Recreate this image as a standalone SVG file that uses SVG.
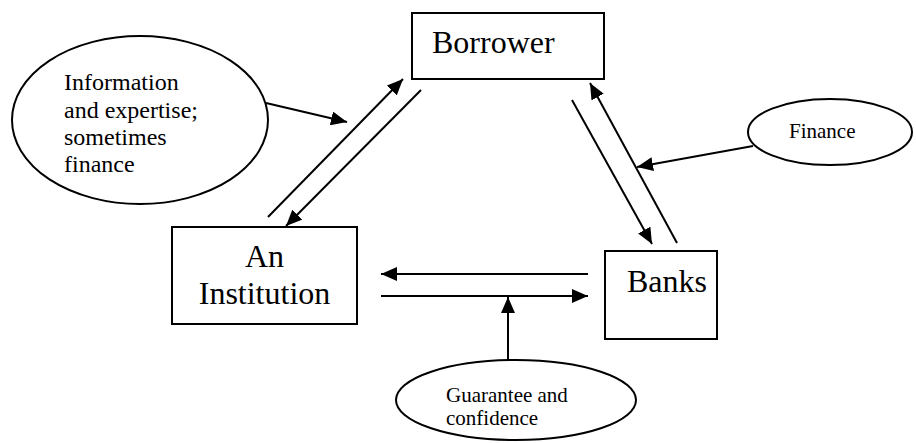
<svg xmlns="http://www.w3.org/2000/svg" width="916" height="443" viewBox="0 0 916 443">
<style>
.box{fill:#fff;stroke:#000;stroke-width:2}
.ell{fill:#fff;stroke:#000;stroke-width:2}
.c line{stroke:#000;stroke-width:2;fill:none}
</style>
<defs>
<marker id="ah" markerUnits="userSpaceOnUse" markerWidth="17" markerHeight="14" refX="16" refY="7" orient="auto">
<path d="M0,0 L16,7 L0,14 z" fill="#000"/>
</marker>
</defs>
<rect width="916" height="443" fill="#fff"/>
<g font-family="'Liberation Serif', 'DejaVu Serif', serif" fill="#000">
<g id="borrower">
<rect class="box" x="412" y="13" width="192" height="66"/>
<text x="432" y="53" font-size="32">Borrower</text>
</g>
<g id="institution">
<rect class="box" x="172" y="227" width="185" height="97"/>
<text x="264.5" y="267" font-size="32" text-anchor="middle">An</text>
<text x="264.5" y="304" font-size="32" text-anchor="middle">Institution</text>
</g>
<g id="banks">
<rect class="box" x="605" y="251" width="112" height="88"/>
<text x="627" y="292" font-size="32">Banks</text>
</g>
<g id="info">
<ellipse class="ell" cx="140" cy="120" rx="128" ry="84"/>
<text x="64" y="90" font-size="24">Information</text>
<text x="64" y="118" font-size="24">and expertise;</text>
<text x="64" y="145" font-size="24">sometimes</text>
<text x="64" y="172" font-size="24">finance</text>
</g>
<g id="finance">
<ellipse class="ell" cx="830" cy="132" rx="82" ry="33"/>
<text x="789" y="138" font-size="21">Finance</text>
</g>
<g id="guarantee">
<ellipse class="ell" cx="516" cy="400" rx="120" ry="40"/>
<text x="446" y="402" font-size="21">Guarantee and</text>
<text x="446" y="425" font-size="21">confidence</text>
</g>
</g>
<g id="connectors" class="c">
<line x1="266" y1="103" x2="347" y2="122" marker-end="url(#ah)"/>
<line x1="268" y1="217" x2="403" y2="79" marker-end="url(#ah)"/>
<line x1="421" y1="90" x2="286" y2="226" marker-end="url(#ah)"/>
<line x1="677" y1="243" x2="590" y2="83" marker-end="url(#ah)"/>
<line x1="572" y1="100" x2="652" y2="244" marker-end="url(#ah)"/>
<line x1="753" y1="146" x2="637" y2="167" marker-end="url(#ah)"/>
<line x1="588" y1="274" x2="381" y2="274" marker-end="url(#ah)"/>
<line x1="381" y1="296" x2="588" y2="296" marker-end="url(#ah)"/>
<line x1="508" y1="360" x2="508" y2="297" marker-end="url(#ah)"/>
</g>
</svg>
